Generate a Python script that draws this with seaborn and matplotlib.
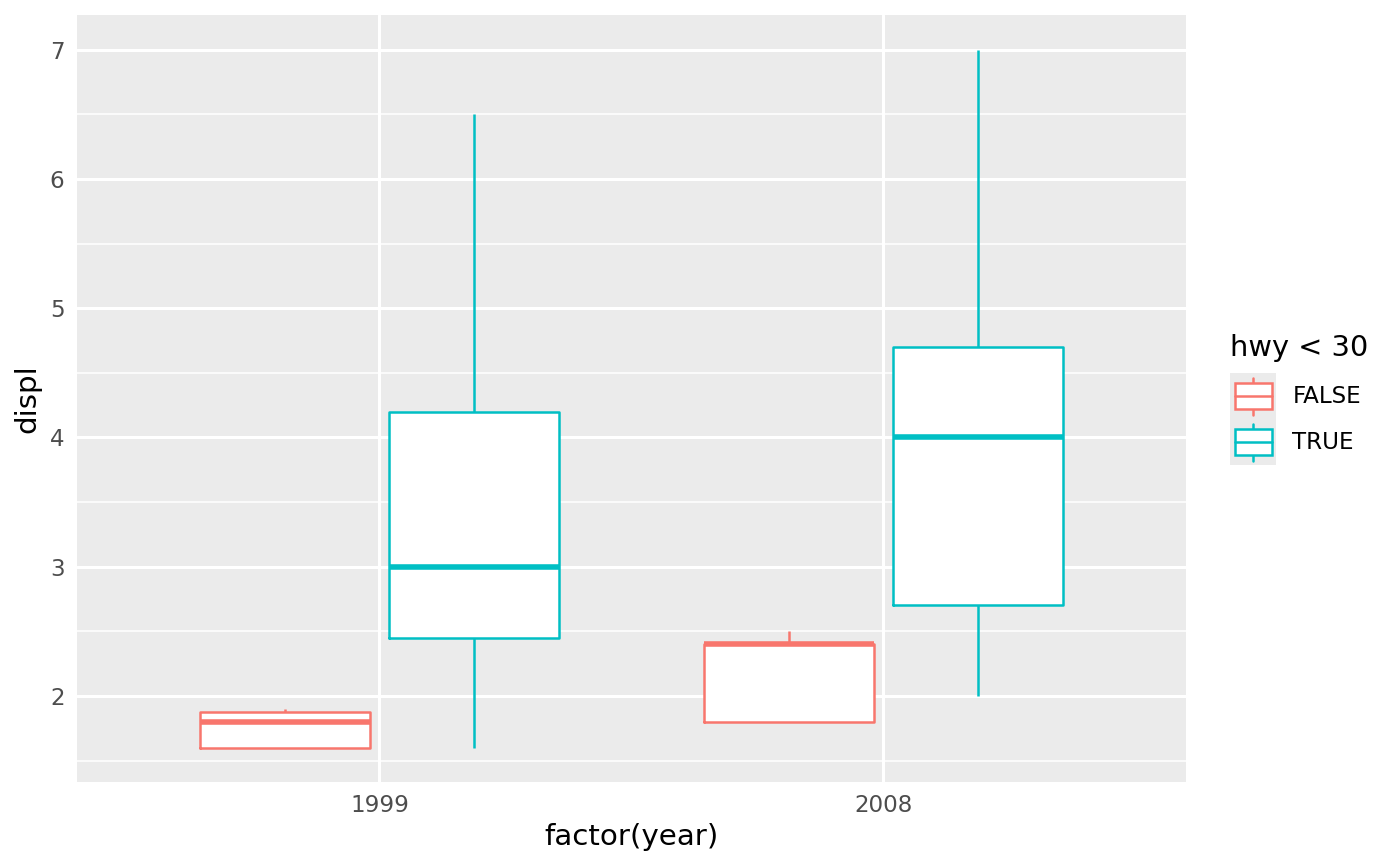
import numpy as np
import pandas as pd
import matplotlib
matplotlib.use("Agg")
import matplotlib.pyplot as plt
import seaborn as sns
from matplotlib.legend_handler import HandlerBase
from matplotlib.patches import Rectangle, Patch
from matplotlib.lines import Line2D
from matplotlib.ticker import FixedLocator

# ---- data (five-number summaries: min, q1, median, q3, max)
years = ["1999", "2008"]
groups = ["FALSE", "TRUE"]
displ_1999_false = [1.6, 1.6, 1.8, 1.875, 1.9]
displ_1999_true = [1.6, 2.45, 3.0, 4.2, 6.5]
displ_2008_false = [1.8, 1.8, 2.4, 2.4, 2.5]
displ_2008_true = [2.0, 2.7, 4.0, 4.7, 7.0]
colors = ["#F8766D", "#00BFC4"]
y_major = [2, 3, 4, 5, 6, 7]
y_minor = [1.5, 2.5, 3.5, 4.5, 5.5, 6.5]

rows = []
for yr, grp, vals in [("1999", "FALSE", displ_1999_false),
                      ("1999", "TRUE", displ_1999_true),
                      ("2008", "FALSE", displ_2008_false),
                      ("2008", "TRUE", displ_2008_true)]:
    for v in vals:
        rows.append({"year": yr, "hwy": grp, "displ": v})
df = pd.DataFrame(rows)

sns.set_theme(style="white")
plt.rcParams["font.family"] = ["DejaVu Sans"]

fig = plt.figure(figsize=(7, 4.33), dpi=200)
ax = fig.add_axes([0.055, 0.097, 0.792, 0.886])
ax.set_facecolor("#EBEBEB")

common = dict(data=df, x="year", y="displ", hue="hwy", order=years,
              hue_order=groups, width=0.75, gap=0.1, showcaps=False,
              showfliers=False, whis=1.5, legend=False, ax=ax)
# white box fill underneath
sns.boxplot(palette=["white", "white"], fill=True, linewidth=0, **common)
# coloured outlines
sns.boxplot(palette=colors, fill=False, linewidth=0.9,
            medianprops=dict(linewidth=2.0), **common)

ax.set_xlim(-0.6, 1.6)
ax.set_ylim(1.334, 7.27)
ax.yaxis.set_major_locator(FixedLocator(y_major))
ax.yaxis.set_minor_locator(FixedLocator(y_minor))
ax.set_axisbelow(True)
ax.grid(which="major", color="white", linewidth=1.1)
ax.grid(which="minor", axis="y", color="white", linewidth=0.55)
for s in ax.spines.values():
    s.set_visible(False)
ax.tick_params(which="major", length=2.5, width=0.55, color="#333333",
               labelcolor="#4D4D4D", labelsize=8.3, pad=2)
ax.tick_params(which="minor", length=0)
ax.set_xlabel("factor(year)", fontsize=10.6, color="black", labelpad=2)
ax.set_ylabel("displ", fontsize=10.6, color="black", labelpad=3)


class BoxHandler(HandlerBase):
    def create_artists(self, legend, orig_handle, xdescent, ydescent,
                       width, height, fontsize, trans):
        c = orig_handle.get_edgecolor()
        x0, y0 = -xdescent, -ydescent
        bg = Rectangle((x0, y0), width, height, facecolor="#EBEBEB",
                       edgecolor="none", transform=trans)
        box = Rectangle((x0 + 0.1 * width, y0 + 0.22 * height), 0.8 * width,
                        0.56 * height, facecolor="white", edgecolor=c,
                        linewidth=0.9, transform=trans)
        xc = x0 + 0.5 * width
        med = Line2D([x0 + 0.1 * width, x0 + 0.9 * width],
                     [y0 + 0.5 * height] * 2, color=c, linewidth=0.9,
                     transform=trans)
        w1 = Line2D([xc, xc], [y0 + 0.1 * height, y0 + 0.22 * height],
                    color=c, linewidth=0.9, transform=trans)
        w2 = Line2D([xc, xc], [y0 + 0.78 * height, y0 + 0.9 * height],
                    color=c, linewidth=0.9, transform=trans)
        return [bg, w1, w2, box, med]


handles = [Patch(edgecolor=c, facecolor="white") for c in colors]
leg = fig.legend(handles, groups, title="hwy < 30",
                 handler_map={Patch: BoxHandler()},
                 loc="center left", bbox_to_anchor=(0.8786, 0.5385),
                 frameon=False, fontsize=8.3, title_fontsize=10.4,
                 handlelength=2.0, handleheight=2.69, labelspacing=0,
                 handletextpad=0.7, borderpad=0, borderaxespad=0)
leg._legend_box.align = "left"
leg._legend_box.sep = 4.0
leg.get_title().set_color("black")
for t in leg.get_texts():
    t.set_color("black")

fig.savefig("out.png", dpi=200)
